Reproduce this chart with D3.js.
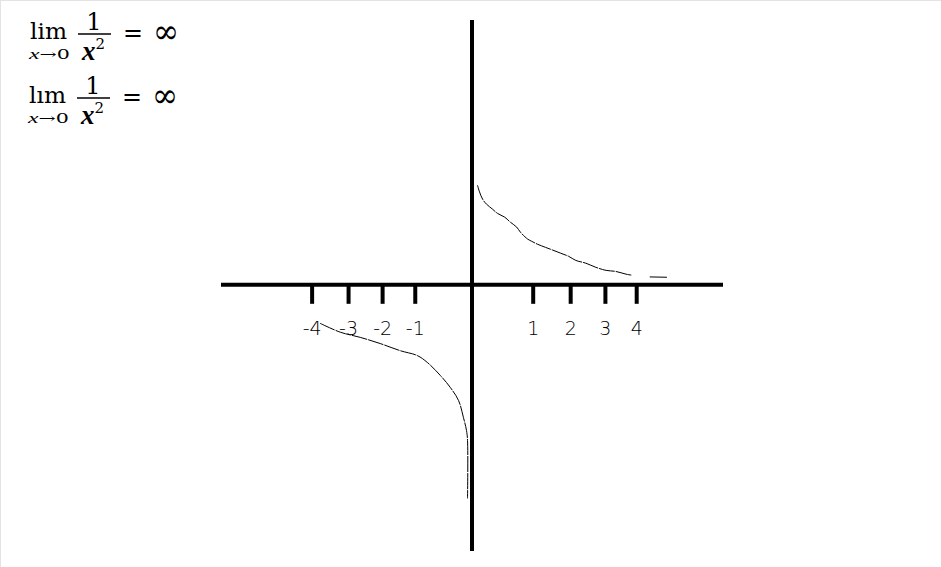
<!DOCTYPE html>
<html>
<head>
<meta charset="utf-8">
<script src="https://cdn.jsdelivr.net/npm/d3@7"></script>
<style>
  html, body { margin: 0; padding: 0; background: #fff; }
  svg { display: block; }
</style>
</head>
<body>
<div id="chart"></div>
<script>
// ---- data (sketch units; 1 unit ≈ one tick spacing) ----
const tickValues = [-4.65, -3.59, -2.60, -1.65, 1.78, 2.87, 3.88, 4.79];
const tickLabels = ["-4", "-3", "-2", "-1", "1", "2", "3", "4"];

const rightCurveX = [0.16, 0.22, 0.31, 0.42, 0.60, 0.74, 0.95, 1.12, 1.30, 1.41, 1.62, 1.73, 1.91, 2.14, 2.35, 2.58, 2.81, 3.02, 3.31, 3.60, 3.90, 4.18, 4.48, 4.65];
const rightCurveY = [2.90, 2.70, 2.49, 2.35, 2.20, 2.08, 1.97, 1.82, 1.68, 1.53, 1.33, 1.27, 1.18, 1.09, 1.01, 0.92, 0.83, 0.71, 0.63, 0.51, 0.42, 0.39, 0.31, 0.28];
const rightTailX = [5.17, 5.67];
const rightTailY = [0.23, 0.22];

const leftCurveX = [-4.42, -3.83, -3.25, -2.67, -2.08, -1.59, -1.30, -0.92, -0.63, -0.39, -0.25, -0.16, -0.13, -0.13];
const leftCurveY = [-1.12, -1.38, -1.53, -1.71, -1.92, -2.06, -2.26, -2.64, -2.99, -3.37, -3.86, -4.24, -4.53, -6.22];

const xDomain = [-7.3, 7.3];
const yDomain = [-7.75, 7.71];

// ---- layout ----
const W = 941, H = 567;
const svg = d3.select("#chart").append("svg").attr("width", W).attr("height", H);

svg.append("rect").attr("width", W).attr("height", H).attr("fill", "#fff");
// faint page border (top/left)
svg.append("line").attr("x1", 0).attr("x2", W).attr("y1", 0.5).attr("y2", 0.5).attr("stroke", "#e3e3e3");
svg.append("line").attr("x1", 0.5).attr("x2", 0.5).attr("y1", 0).attr("y2", H).attr("stroke", "#e3e3e3");

const x = d3.scaleLinear().domain(xDomain).range([221, 723]);
const y = d3.scaleLinear().domain(yDomain).range([551, 20]);

// axes
svg.append("line")
  .attr("x1", x(xDomain[0])).attr("x2", x(xDomain[1]))
  .attr("y1", y(0)).attr("y2", y(0))
  .attr("stroke", "#000").attr("stroke-width", 4);
svg.append("line")
  .attr("x1", x(0)).attr("x2", x(0))
  .attr("y1", y(yDomain[1])).attr("y2", y(yDomain[0]))
  .attr("stroke", "#000").attr("stroke-width", 4);

// ticks
svg.selectAll("line.tick").data(tickValues).join("line")
  .attr("class", "tick")
  .attr("x1", d => x(d)).attr("x2", d => x(d))
  .attr("y1", y(0)).attr("y2", y(0) + 19)
  .attr("stroke", "#000").attr("stroke-width", 4);

// tick labels (thin, sketch-like)
svg.selectAll("text.tl").data(tickValues).join("text")
  .attr("class", "tl")
  .attr("x", d => x(d))
  .attr("y", y(0) + 50)
  .attr("text-anchor", "middle")
  .attr("font-family", "'DejaVu Sans ExtraLight', 'DejaVu Sans', sans-serif")
  .attr("font-weight", 200)
  .attr("font-size", 19)
  .attr("fill", "#000")
  .text((d, i) => tickLabels[i]);

// curves
const line = d3.line().x(d => x(d[0])).y(d => y(d[1])).curve(d3.curveCatmullRom);
const pts = (xs, ys) => xs.map((v, i) => [v, ys[i]]);

svg.append("path").datum(pts(rightCurveX, rightCurveY))
  .attr("d", line).attr("fill", "none").attr("stroke", "#000").attr("stroke-width", 1)
  .attr("stroke-dasharray", "16,1");
svg.append("path").datum(pts(rightTailX, rightTailY))
  .attr("d", line).attr("fill", "none").attr("stroke", "#000").attr("stroke-width", 1);
svg.append("path").datum(pts(leftCurveX, leftCurveY))
  .attr("d", line).attr("fill", "none").attr("stroke", "#000").attr("stroke-width", 1)
  .attr("stroke-dasharray", "16,1");

// ---- formulas ----
function formula(g, s) {
  const serif = "'DejaVu Serif', 'Liberation Serif', serif";
  const ital = "'Liberation Serif', 'DejaVu Serif', serif";
  g.append("text").attr("x", 30).attr("y", 39).attr("font-family", serif)
    .attr("font-size", 22).attr("textLength", 37).attr("lengthAdjust", "spacingAndGlyphs").text(s.lim);
  const sub = g.append("text").attr("x", 29).attr("y", 59).attr("font-family", serif)
    .attr("font-size", 13).attr("textLength", 41).attr("lengthAdjust", "spacingAndGlyphs");
  sub.append("tspan").attr("font-family", ital).attr("font-style", "italic").attr("font-size", 15).text("x");
  sub.append("tspan").text("→0");
  g.append("text").attr("x", 94).attr("y", 30).attr("text-anchor", "middle")
    .attr("font-family", serif).attr("font-size", 24).text("1");
  g.append("line").attr("x1", 78).attr("x2", 111).attr("y1", 34).attr("y2", 34)
    .attr("stroke", "#000").attr("stroke-width", 1.3);
  const t = g.append("text").attr("x", 82).attr("y", 60).attr("font-family", ital)
    .attr("font-size", 27).attr("font-weight", "bold").attr("font-style", "italic").text("x");
  t.append("tspan").attr("dy", -11).attr("font-family", serif).attr("font-size", 15)
    .attr("font-style", "normal").attr("font-weight", "normal").text("2");
  g.append("text").attr("x", 123).attr("y", 42).attr("font-family", serif)
    .attr("font-size", 26).attr("textLength", 20).attr("lengthAdjust", "spacingAndGlyphs").text("=");
  g.append("text").attr("x", 153).attr("y", 43).attr("font-family", serif)
    .attr("font-size", 34).attr("textLength", 26).attr("lengthAdjust", "spacingAndGlyphs").text("∞");
}
formula(svg.append("g"), { lim: "lim" });
formula(svg.append("g").attr("transform", "translate(-1,64)"), { lim: "lım" });
</script>
</body>
</html>
